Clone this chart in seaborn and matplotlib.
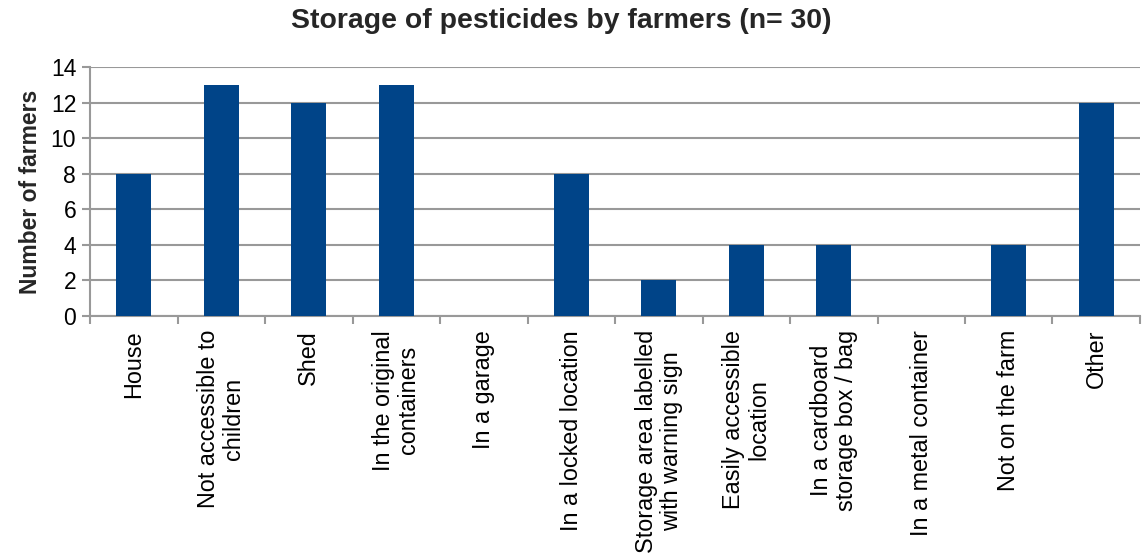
import matplotlib
matplotlib.use("Agg")
import matplotlib.pyplot as plt
import seaborn as sns
import pandas as pd
import numpy as np

categories = [
    "House",
    "Not accessible to\nchildren",
    "Shed",
    "In the original\ncontainers",
    "In a garage",
    "In a locked location",
    "Storage area labelled\nwith warning sign",
    "Easily accessible\nlocation",
    "In a cardboard\nstorage box / bag",
    "In a metal container",
    "Not on the farm",
    "Other",
]
farmers = [8, 13, 12, 13, 0, 8, 2, 4, 4, 0, 4, 12]
y_ticks = [0, 2, 4, 6, 8, 10, 12, 14]

sns.set_theme(style="white")
plt.rcParams["font.family"] = ["Liberation Sans", "DejaVu Sans"]

df = pd.DataFrame({"category": categories, "farmers": farmers})

fig = plt.figure(figsize=(11.44, 5.6), dpi=100)
ax = fig.add_axes([0.0787, 0.4357, 0.9178, 0.4447])

sns.barplot(data=df, x="category", y="farmers", color="#004488",
            width=0.4, saturation=1, ax=ax, zorder=3, linewidth=0)

ax.set_ylim(0, 14)
ax.set_yticks(y_ticks)
ax.set_xlim(-0.5, len(categories) - 0.5)
ax.yaxis.grid(True, color="#999999", linewidth=1.5, zorder=0)
ax.set_axisbelow(True)

for side in ["top", "right"]:
    ax.spines[side].set_visible(False)
ax.spines["left"].set_color("#999999")
ax.spines["left"].set_linewidth(1.5)
ax.spines["bottom"].set_color("#999999")
ax.spines["bottom"].set_linewidth(1.5)

ax.tick_params(axis="y", which="both", left=True, length=6, width=1.5,
               color="#999999", labelsize=16.5, pad=4)
ax.set_yticklabels([str(v) for v in y_ticks], color="black")

# category ticks sit on the boundaries between bars
ax.set_xticks(np.arange(len(categories)))
ax.set_xticklabels(categories, rotation=90, fontsize=16.8, color="black",
                   ha="center", va="top", multialignment="center",
                   linespacing=1.1)
ax.tick_params(axis="x", which="major", length=0, pad=10)
ax.set_xticks(np.arange(len(categories) + 1) - 0.5, minor=True)
ax.tick_params(axis="x", which="minor", bottom=True, length=6, width=1.5,
               color="#999999")

ax.set_xlabel("")
ax.set_ylabel("Number of farmers", fontsize=16.5, fontweight="bold",
              labelpad=6)
fig.suptitle("Storage of pesticides by farmers (n= 30)", fontsize=20.4,
             fontweight="bold", x=0.491, y=0.985, va="top")

fig.savefig("out.png", dpi=100)
